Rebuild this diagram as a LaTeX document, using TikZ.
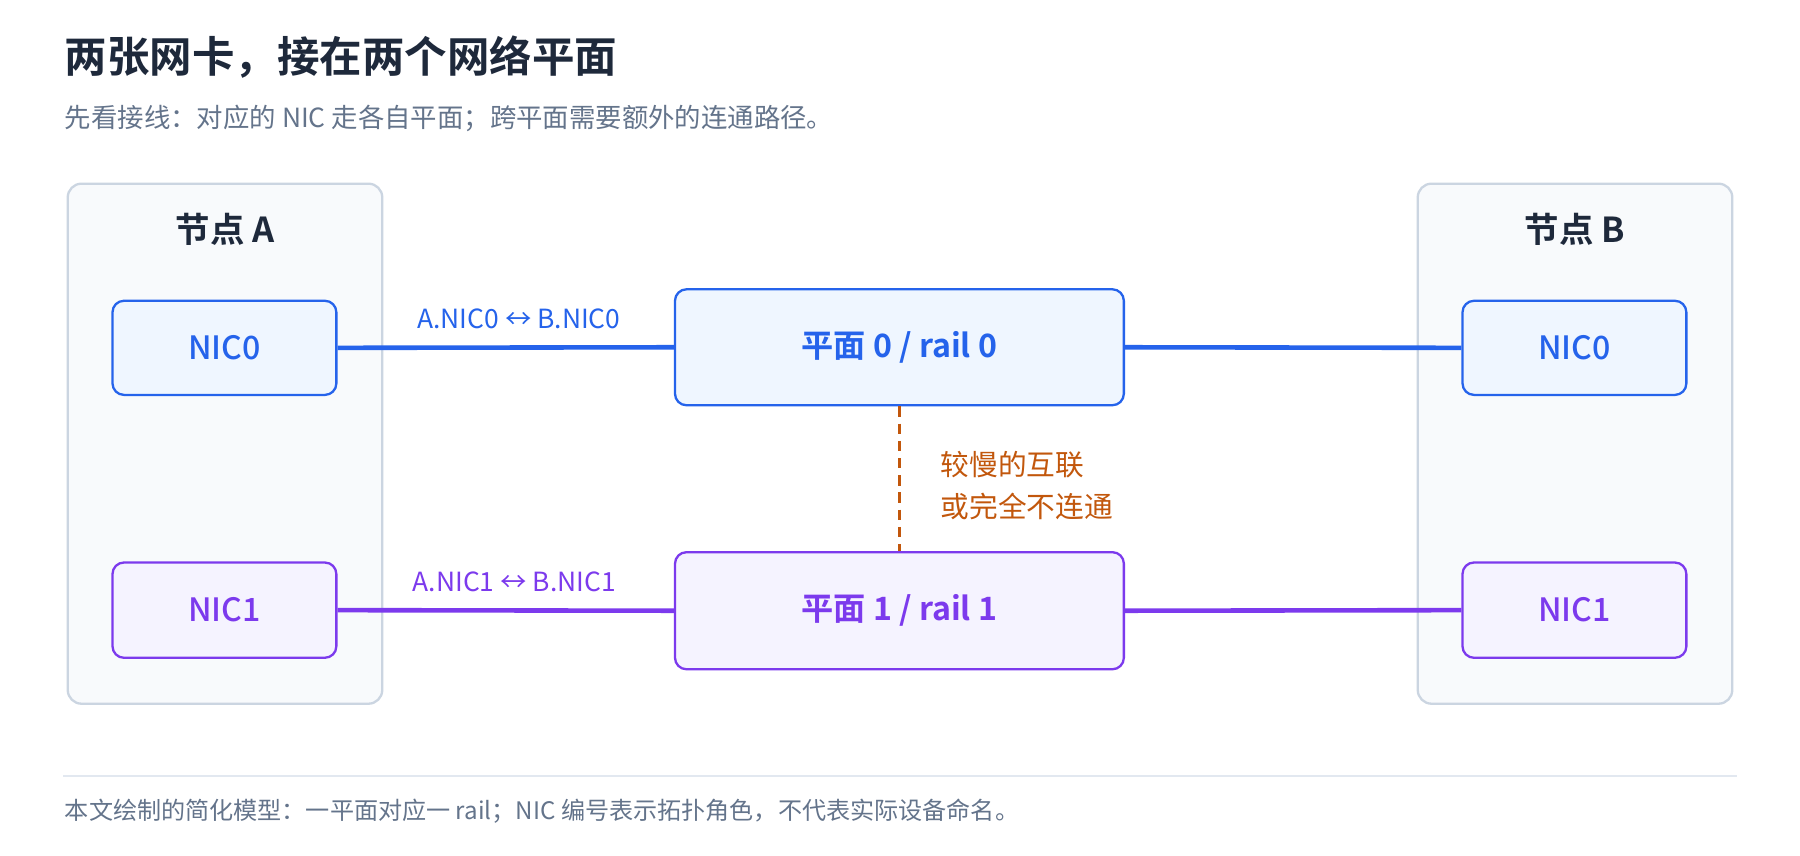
\documentclass[tikz,border=0pt]{standalone}
\usepackage{fontspec}
\setmainfont{Noto Sans CJK SC}
\newfontfamily\cjkb{Noto Sans CJK SC Bold}
\newfontfamily\cjkm{Noto Sans CJK SC Medium}
\begin{document}
\definecolor{ink}{HTML}{1E293B}
\definecolor{muted}{HTML}{64748B}
\definecolor{blu}{HTML}{2563EB}
\definecolor{blubg}{HTML}{EFF6FF}
\definecolor{pur}{HTML}{7C3AED}
\definecolor{purbg}{HTML}{F5F3FF}
\definecolor{org}{HTML}{C2570C}
\definecolor{grp}{HTML}{CBD5E1}
\definecolor{grpbg}{HTML}{F8FAFC}
\definecolor{sep}{HTML}{E2E8F0}
\begin{tikzpicture}[x=1pt,y=-1pt,
  grpbox/.style={draw=grp,fill=grpbg,line width=2pt,rounded corners=12pt},
  b0/.style={draw=blu,fill=blubg,line width=2pt,rounded corners=10pt,text=blu,font=\cjkm\fontsize{28}{32}\selectfont},
  b1/.style={draw=pur,fill=purbg,line width=2pt,rounded corners=10pt,text=pur,font=\cjkm\fontsize{28}{32}\selectfont},
  pl/.style={font=\cjkb\fontsize{28}{32}\selectfont},
  l0/.style={blu,line width=4pt},
  l1/.style={pur,line width=4pt}]
\useasboundingbox (0,0) rectangle (1568,745);
\fill[white] (0,0) rectangle (1568,745);
\node[anchor=west,text=ink,font=\cjkb\fontsize{37}{42}\selectfont] (title) at (53,50) {两张网卡，接在两个网络平面};
\node[anchor=west,text=muted,font=\fontsize{23}{26}\selectfont] (sub) at (53,103) {先看接线：对应的 NIC 走各自平面；跨平面需要额外的连通路径。};
\draw[grpbox] (59,160) rectangle (333,613);
\draw[grpbox] (1235,160) rectangle (1509,613);
\node[text=ink,font=\cjkb\fontsize{30}{34}\selectfont] (ga) at (196,200) {节点 A};
\node[text=ink,font=\cjkb\fontsize{30}{34}\selectfont] (gb) at (1372,200) {节点 B};
\node[b0,minimum width=195pt,minimum height=82pt] (a0) at (195.5,303) {NIC0};
\node[b1,minimum width=195pt,minimum height=83pt] (a1) at (195.5,531.5) {NIC1};
\node[b0,minimum width=195pt,minimum height=82pt] (n0) at (1371.5,303) {NIC0};
\node[b1,minimum width=195pt,minimum height=83pt] (n1) at (1371.5,531.5) {NIC1};
\node[b0,pl,minimum width=391pt,minimum height=101pt] (p0) at (783.5,302.5) {平面 0 / rail 0};
\node[b1,pl,minimum width=391pt,minimum height=102pt] (p1) at (783.5,532) {平面 1 / rail 1};
\draw[l0] (a0.east) -- (p0.west);
\draw[l0] (p0.east) -- (n0.west);
\draw[l1] (a1.east) -- (p1.west);
\draw[l1] (p1.east) -- (n1.west);
\node[text=blu,font=\fontsize{23}{26}\selectfont] (lab0) at (452,278) {A.NIC0 ↔ B.NIC0};
\node[text=pur,font=\fontsize{23}{26}\selectfont] (lab1) at (448,507) {A.NIC1 ↔ B.NIC1};
\draw[org,line width=3pt,dash pattern=on 9pt off 6pt] (p0.south) -- (p1.north);
\node[anchor=west,text=org,font=\fontsize{25}{28}\selectfont] (s1) at (816,405) {较慢的互联};
\node[anchor=west,text=org,font=\fontsize{25}{28}\selectfont] (s2) at (816,441) {或完全不连通};
\draw[sep,line width=1.5pt] (55,676) -- (1513,676);
\node[anchor=west,text=muted,font=\fontsize{21}{24}\selectfont] (foot) at (53,707) {本文绘制的简化模型：一平面对应一 rail；NIC 编号表示拓扑角色，不代表实际设备命名。};
\end{tikzpicture}
\end{document}
